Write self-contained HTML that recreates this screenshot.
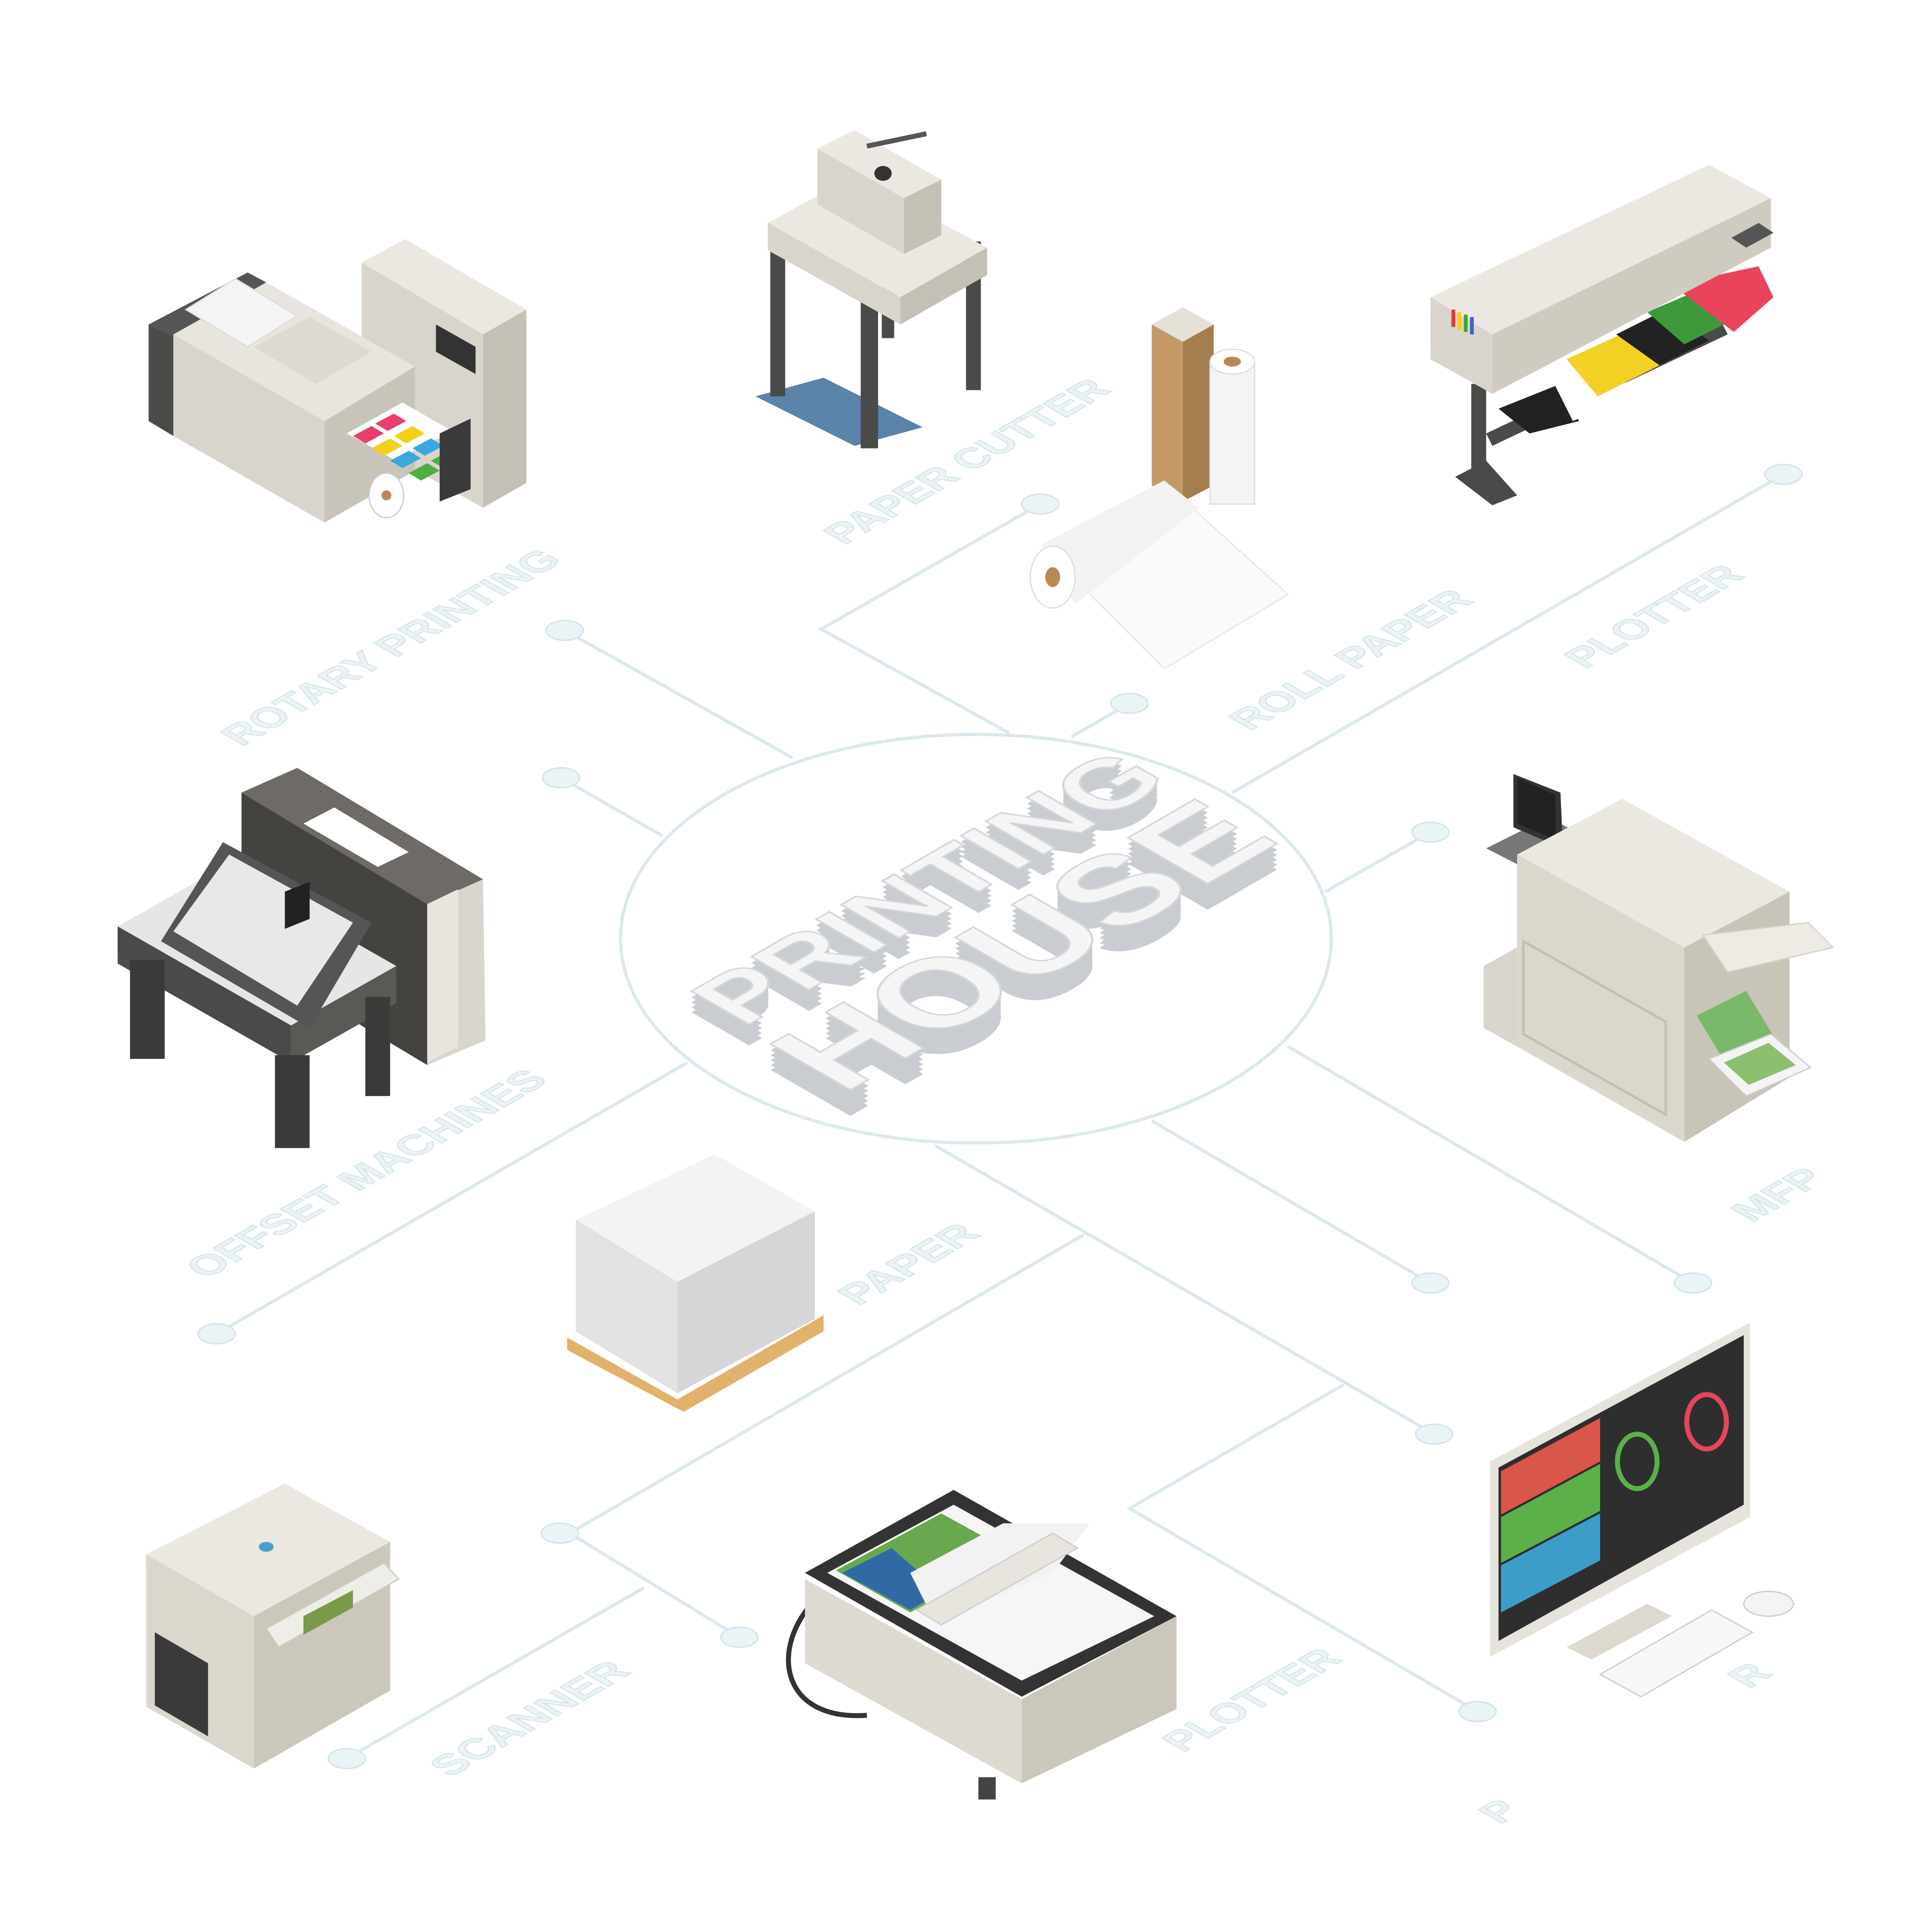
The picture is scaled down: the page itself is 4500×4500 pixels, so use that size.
<!DOCTYPE html>
<html><head><meta charset="utf-8"><style>
html,body{margin:0;padding:0;background:#fff;width:4500px;height:4500px;overflow:hidden}
svg{display:block}
.lbl{font-family:"Liberation Sans",sans-serif;font-weight:bold;fill:#eaf2f4;stroke:#cfe2e9;stroke-width:0.8;text-anchor:middle}
.ln{stroke:#dbe9ee;stroke-width:2.6;fill:none}
.dot{fill:#eaf3f5;stroke:#d3e5eb;stroke-width:1.2}
</style></head><body>
<svg width="4500" height="4500" viewBox="0 0 1560 1560" xmlns="http://www.w3.org/2000/svg">
<rect width="1560" height="1560" fill="#fff"/>
<g class="ln">
<line x1="456" y1="509" x2="640" y2="612"/>
<line x1="453" y1="628" x2="535" y2="675"/>
<line x1="175" y1="1077" x2="555" y2="858"/>
<polyline points="840,407 663,508 815,592"/>
<line x1="912" y1="568" x2="865" y2="595"/>
<line x1="1440" y1="383" x2="995" y2="640"/>
<line x1="1155" y1="672" x2="1070" y2="720"/>
<line x1="1040" y1="845" x2="1367" y2="1036"/>
<line x1="930" y1="905" x2="1155" y2="1036"/>
<line x1="755" y1="925" x2="1158" y2="1158"/>
<polyline points="875,997 460,1238 597,1322"/>
<line x1="280" y1="1420" x2="520" y2="1282"/>
<polyline points="1085,1118 912,1218 1193,1382"/>
</g>
<ellipse cx="788" cy="758" rx="287" ry="165" fill="none" stroke="#dbe9ee" stroke-width="2.6"/>
<g class="dot">
<ellipse cx="456" cy="509" rx="15" ry="8"/><ellipse cx="453" cy="628" rx="15" ry="8"/>
<ellipse cx="175" cy="1077" rx="15" ry="8"/><ellipse cx="840" cy="407" rx="15" ry="8"/>
<ellipse cx="912" cy="568" rx="15" ry="8"/><ellipse cx="1440" cy="383" rx="15" ry="8"/>
<ellipse cx="1155" cy="672" rx="15" ry="8"/><ellipse cx="1367" cy="1036" rx="15" ry="8"/>
<ellipse cx="1155" cy="1036" rx="15" ry="8"/><ellipse cx="1158" cy="1158" rx="15" ry="8"/>
<ellipse cx="452" cy="1238" rx="15" ry="8"/><ellipse cx="597" cy="1322" rx="15" ry="8"/>
<ellipse cx="280" cy="1420" rx="15" ry="8"/><ellipse cx="1193" cy="1382" rx="15" ry="8"/>
</g>
<g class="lbl" font-size="32" transform="translate(-10,-8)">
<text textLength="300" lengthAdjust="spacingAndGlyphs" transform="matrix(0.866,-0.5,0.866,0.5,335,536)">ROTARY PRINTING</text>
<text textLength="250" lengthAdjust="spacingAndGlyphs" transform="matrix(0.866,-0.5,0.866,0.5,800,386)">PAPER CUTTER</text>
<text textLength="210" lengthAdjust="spacingAndGlyphs" transform="matrix(0.866,-0.5,0.866,0.5,1110,546)">ROLL PAPER</text>
<text textLength="150" lengthAdjust="spacingAndGlyphs" transform="matrix(0.866,-0.5,0.866,0.5,1355,511)">PLOTTER</text>
<text textLength="320" lengthAdjust="spacingAndGlyphs" transform="matrix(0.866,-0.5,0.866,0.5,315,961)">OFFSET MACHINES</text>
<text textLength="115" lengthAdjust="spacingAndGlyphs" transform="matrix(0.866,-0.5,0.866,0.5,753,1034)">PAPER</text>
<text textLength="70" lengthAdjust="spacingAndGlyphs" transform="matrix(0.866,-0.5,0.866,0.5,1455,978)">MFP</text>
<text textLength="170" lengthAdjust="spacingAndGlyphs" transform="matrix(0.866,-0.5,0.866,0.5,447,1401)">SCANNER</text>
<text textLength="150" lengthAdjust="spacingAndGlyphs" transform="matrix(0.866,-0.5,0.866,0.5,1030,1386)">PLOTTER</text>
<text transform="matrix(0.866,-0.5,0.866,0.5,1432,1366)">R</text>
<text transform="matrix(0.866,-0.5,0.866,0.5,1230,1476)">P</text>
</g>
<g font-family="Liberation Sans,sans-serif" font-weight="bold">
<g fill="#c9cdd1">
<text font-size="78" textLength="400" lengthAdjust="spacingAndGlyphs" transform="matrix(0.866,-0.5,0.866,0.5,600,847)">PRINTING</text>
<text font-size="78" textLength="400" lengthAdjust="spacingAndGlyphs" transform="matrix(0.866,-0.5,0.866,0.5,600,843)">PRINTING</text>
<text font-size="78" textLength="400" lengthAdjust="spacingAndGlyphs" transform="matrix(0.866,-0.5,0.866,0.5,600,839)">PRINTING</text>
<text font-size="78" textLength="400" lengthAdjust="spacingAndGlyphs" transform="matrix(0.866,-0.5,0.866,0.5,600,835)">PRINTING</text>
<text font-size="108" textLength="410" lengthAdjust="spacingAndGlyphs" transform="matrix(0.866,-0.5,0.866,0.5,680,905)">HOUSE</text>
<text font-size="108" textLength="410" lengthAdjust="spacingAndGlyphs" transform="matrix(0.866,-0.5,0.866,0.5,680,901)">HOUSE</text>
<text font-size="108" textLength="410" lengthAdjust="spacingAndGlyphs" transform="matrix(0.866,-0.5,0.866,0.5,680,897)">HOUSE</text>
<text font-size="108" textLength="410" lengthAdjust="spacingAndGlyphs" transform="matrix(0.866,-0.5,0.866,0.5,680,893)">HOUSE</text>
<text font-size="108" textLength="410" lengthAdjust="spacingAndGlyphs" transform="matrix(0.866,-0.5,0.866,0.5,680,889)">HOUSE</text>
</g>
<text font-size="78" textLength="400" lengthAdjust="spacingAndGlyphs" fill="#f5f5f5" stroke="#d4d7da" stroke-width="1.5" transform="matrix(0.866,-0.5,0.866,0.5,600,830)">PRINTING</text>
<text font-size="108" textLength="410" lengthAdjust="spacingAndGlyphs" fill="#f5f5f5" stroke="#d4d7da" stroke-width="1.5" transform="matrix(0.866,-0.5,0.866,0.5,680,884)">HOUSE</text>
</g>

<polygon points="292,212 327,193 425,250 390,270" fill="#ebe8e2"/>
<polygon points="292,212 390,270 390,410 292,355" fill="#d9d5cc"/>
<polygon points="390,270 425,250 425,390 390,410" fill="#c5c0b5"/>
<polygon points="352,262 384,280 384,302 352,284" fill="#333"/>
<polygon points="120,262 200,220 215,228 140,272" fill="#555"/>
<polygon points="120,262 140,272 140,352 120,340" fill="#4a4a48"/>
<polygon points="140,270 215,228 335,296 262,340" fill="#e8e5df"/>
<polygon points="150,250 190,225 240,255 200,280" fill="#f4f4f4" stroke="#ddd"/>
<polygon points="140,270 262,340 262,422 140,352" fill="#d9d5cc"/>
<polygon points="262,340 335,296 335,380 262,422" fill="#c9c4b9"/>
<polygon points="205,280 250,256 300,284 255,310" fill="#dedad2"/>
<polygon points="280,350 325,325 365,348 320,372" fill="#fff"/>
<polygon points="285,352 300,344 310,350 295,358" fill="#e83e6c"/>
<polygon points="303,342 318,334 328,340 313,348" fill="#e83e6c"/>
<polygon points="300,362 315,354 325,360 310,368" fill="#f4d01a"/>
<polygon points="318,352 333,344 343,350 328,358" fill="#f4d01a"/>
<polygon points="315,372 330,364 340,370 325,378" fill="#3aa8e0"/>
<polygon points="333,362 348,354 358,360 343,368" fill="#3aa8e0"/>
<polygon points="330,382 345,374 355,380 340,388" fill="#4ab040"/>
<polygon points="348,372 363,364 373,370 358,378" fill="#4ab040"/>
<ellipse cx="312" cy="400" rx="14" ry="18" fill="#fff" stroke="#ccc"/>
<circle cx="312" cy="400" r="4" fill="#b78a55"/>
<polygon points="355,350 380,338 380,395 355,405" fill="#3a3a3a"/>

<polygon points="610,320 690,360 745,345 665,305" fill="#3d6d9a" opacity="0.85"/>
<rect x="622" y="200" width="12" height="120" fill="#4a4a48"/>
<rect x="695" y="240" width="14" height="122" fill="#4a4a48"/>
<rect x="780" y="195" width="12" height="120" fill="#4a4a48"/>
<rect x="712" y="228" width="10" height="45" fill="#4a4a48"/>
<polygon points="620,180 690,142 797,200 727,240" fill="#ebe8e2"/>
<polygon points="620,180 727,240 727,262 620,202" fill="#d9d5cc"/>
<polygon points="727,240 797,200 797,222 727,262" fill="#c5c0b5"/>
<polygon points="660,120 690,105 760,145 730,160" fill="#ebe8e2"/>
<polygon points="660,120 730,160 730,205 660,165" fill="#d9d5cc"/>
<polygon points="730,160 760,145 760,190 730,205" fill="#c5c0b5"/>
<line x1="700" y1="118" x2="748" y2="108" stroke="#555" stroke-width="4"/>
<ellipse cx="713" cy="140" rx="7" ry="6" fill="#333"/>

<polygon points="930,262 955,248 980,262 955,276" fill="#e6e1d6"/>
<polygon points="930,262 955,276 955,405 930,392" fill="#c39a66"/>
<polygon points="955,276 980,262 980,392 955,405" fill="#a57e50"/>
<rect x="977" y="292" width="36" height="115" fill="#f4f4f4" stroke="#ddd"/>
<ellipse cx="995" cy="292" rx="18" ry="10" fill="#fff" stroke="#ddd"/>
<ellipse cx="995" cy="292" rx="7" ry="4" fill="#b78a55"/>
<polygon points="850,440 940,392 968,415 1040,480 940,540 880,480" fill="#fafafa" stroke="#e6e6e6"/>
<polygon points="840,440 940,388 968,410 868,488" fill="#f2f2f2"/>
<ellipse cx="850" cy="466" rx="18" ry="25" fill="#fff" stroke="#ddd"/>
<ellipse cx="850" cy="466" rx="6" ry="8" fill="#b78a55"/>

<rect x="1188" y="310" width="12" height="80" fill="#4a4a48"/>
<polygon points="1175,385 1200,372 1225,400 1205,408" fill="#4a4a48"/>
<polygon points="1200,350 1390,260 1395,270 1205,360" fill="#4a4a48"/>
<polygon points="1210,330 1260,310 1275,340 1235,350" fill="#222"/>
<polygon points="1255,310 1300,290 1320,320 1270,340" fill="#fff"/>
<polygon points="1265,290 1320,265 1350,290 1290,320" fill="#f2d024"/>
<polygon points="1305,270 1345,250 1380,275 1340,295" fill="#222"/>
<polygon points="1330,252 1370,235 1400,258 1360,278" fill="#3d9a3a"/>
<polygon points="1350,230 1420,215 1432,240 1400,268" fill="#e8445c"/>
<polygon points="1155,240 1380,133 1430,160 1205,270" fill="#ebe8e2"/>
<polygon points="1155,240 1205,270 1205,318 1155,290" fill="#d9d5cc"/>
<polygon points="1205,270 1430,160 1430,200 1205,318" fill="#d0cbc1"/>
<rect x="1172" y="250" width="3" height="14" fill="#e33"/><rect x="1177" y="252" width="3" height="14" fill="#fc0"/><rect x="1182" y="254" width="3" height="14" fill="#3a3"/><rect x="1187" y="256" width="3" height="14" fill="#36c"/>
<polygon points="1398,192 1420,180 1432,188 1410,200" fill="#555"/>

<polygon points="195,640 240,620 390,710 345,730" fill="#6e6b66"/>
<polygon points="195,640 345,730 345,860 195,770" fill="#444340"/>
<polygon points="345,730 390,710 392,840 345,860" fill="#d9d5cc"/>
<polygon points="345,730 370,718 370,845 345,858" fill="#e8e5df"/>
<polygon points="245,665 270,652 330,688 305,700" fill="#fff"/>
<polygon points="95,748 180,700 320,780 235,828" fill="#e6e6e6"/>
<polygon points="95,748 235,828 235,858 95,778" fill="#4a4a48"/>
<polygon points="235,828 320,780 320,810 235,858" fill="#5a5955"/>
<rect x="105" y="775" width="28" height="80" fill="#3a3a38"/>
<rect x="222" y="852" width="28" height="75" fill="#3a3a38"/>
<rect x="295" y="805" width="20" height="80" fill="#3a3a38"/>
<polygon points="130,760 180,680 300,745 250,830" fill="#555"/>
<polygon points="140,752 185,690 285,745 240,812" fill="#e8e8e8"/>
<polygon points="230,720 250,712 250,742 230,750" fill="#222"/>

<polygon points="1200,685 1250,660 1295,683 1245,708" fill="#777"/>
<polygon points="1222,625 1260,640 1262,685 1222,668" fill="#333"/>
<polygon points="1225,628 1256,642 1256,678 1225,665" fill="#222"/>
<polygon points="1225,690 1310,645 1445,720 1360,765" fill="#ebe8e2"/>
<polygon points="1225,690 1360,765 1360,922 1225,845" fill="#dcd7cd"/>
<polygon points="1360,765 1445,720 1445,870 1360,922" fill="#c9c4b8"/>
<polygon points="1198,780 1225,765 1225,845 1198,830" fill="#d9d5cc"/>
<polygon points="1230,760 1345,825 1345,900 1230,835" fill="none" stroke="#c4beb2" stroke-width="2"/>
<polygon points="1375,755 1460,745 1480,765 1395,785" fill="#eeebe5" stroke="#d6d1c7"/>
<polygon points="1370,820 1410,800 1440,850 1400,870" fill="#7ab86a"/>
<polygon points="1380,855 1430,835 1462,862 1410,885" fill="#f4f4f4" stroke="#ccc"/>
<polygon points="1392,858 1428,842 1450,860 1412,876" fill="#8cc070"/>

<polygon points="458,1080 547,1130 665,1062 665,1075 552,1140 458,1090" fill="#e0b26b"/>
<polygon points="465,985 577,932 658,978 547,1035" fill="#f3f3f3"/>
<polygon points="465,985 547,1035 547,1125 465,1075" fill="#e2e2e2"/>
<polygon points="547,1035 658,978 658,1065 547,1125" fill="#d6d6d6"/>

<polygon points="118,1255 230,1198 315,1245 205,1305" fill="#ebe8e2"/>
<polygon points="118,1255 205,1305 205,1428 118,1378" fill="#dcd7cd"/>
<polygon points="205,1305 315,1245 315,1365 205,1428" fill="#ccc7bb"/>
<polygon points="125,1318 168,1343 168,1402 125,1377" fill="#3a3a3a"/>
<polygon points="215,1315 310,1262 322,1275 225,1330" fill="#efede8" stroke="#cfcac0"/>
<polygon points="245,1305 285,1284 285,1298 245,1320" fill="#7a9a4a"/>
<ellipse cx="215" cy="1249" rx="6" ry="4" fill="#4aa0c8"/>

<path d="M660,1290 C620,1330 630,1390 700,1385" fill="none" stroke="#333" stroke-width="4"/>
<polygon points="650,1275 825,1372 825,1440 650,1343" fill="#dedad1"/>
<polygon points="825,1372 950,1305 950,1380 825,1440" fill="#ccc7bb"/>
<rect x="790" y="1435" width="14" height="18" fill="#444"/>
<polygon points="650,1270 770,1203 950,1305 825,1370" fill="#333"/>
<polygon points="668,1270 770,1215 932,1305 825,1357" fill="#f6f6f6"/>
<polygon points="675,1268 760,1222 820,1255 735,1302" fill="#6aa84f"/>
<polygon points="680,1270 720,1250 760,1285 735,1300" fill="#2f6aa5"/>
<polygon points="735,1270 810,1230 880,1230 850,1270 755,1310" fill="#f2f2f2"/>
<polygon points="740,1300 850,1238 870,1250 760,1312" fill="#e8e5df" stroke="#ccc"/>

<polygon points="1265,1330 1330,1295 1350,1305 1285,1340" fill="#ddd9cf"/>
<polygon points="1203,1180 1413,1068 1413,1225 1203,1338" fill="#e6e3dc"/>
<polygon points="1210,1185 1408,1078 1408,1215 1210,1325" fill="#2e2e2e"/>
<polygon points="1212,1188 1292,1145 1292,1180 1212,1223" fill="#d9564a"/>
<polygon points="1212,1225 1292,1182 1292,1220 1212,1262" fill="#5bb04a"/>
<polygon points="1212,1264 1292,1222 1292,1260 1212,1302" fill="#3c9dc8"/>
<ellipse cx="1322" cy="1180" rx="16" ry="22" fill="none" stroke="#5bb04a" stroke-width="4"/>
<ellipse cx="1378" cy="1148" rx="16" ry="22" fill="none" stroke="#e8445c" stroke-width="4"/>
<polygon points="1292,1352 1382,1300 1415,1318 1325,1370" fill="#f7f7f7" stroke="#ccc"/>
<ellipse cx="1428" cy="1295" rx="20" ry="10" fill="#f4f4f4" stroke="#ccc"/>
</svg>
</body></html>
